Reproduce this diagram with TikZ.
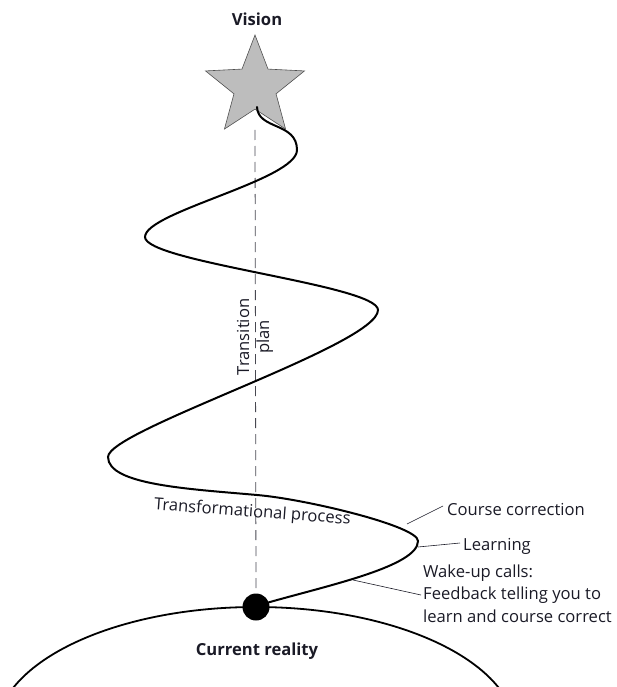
\documentclass[tikz,border=0pt]{standalone}
\usepackage{fontspec}
\setmainfont{Open Sans}
\usetikzlibrary{shapes.geometric}
\definecolor{ink}{HTML}{1A1A26}
\definecolor{stargray}{HTML}{BDBDBD}
\definecolor{stargrayline}{HTML}{505050}
\begin{document}
\begin{tikzpicture}[x=1pt,y=-1pt,
  txt/.style={font=\fontsize{16.6}{22.5}\selectfont, text=ink, inner sep=0pt},
  ttl/.style={font=\bfseries\fontsize{16.6}{20}\selectfont, text=ink, inner sep=0pt},
  leader/.style={draw=ink, line width=0.6pt},
  spiral/.style={draw=black, line width=2pt, line cap=round},
  planline/.style={draw=ink!80, line width=0.8pt, dash pattern=on 10pt off 6pt},
]
\useasboundingbox (0,0) rectangle (617,687);

% current reality: the ground ellipse and the starting dot
\draw[line width=1.8pt] (256,733) ellipse [x radius=260pt, y radius=126pt];
\node[circle, fill=black, minimum size=27pt, inner sep=0pt] (reality) at (256,607) {};

% dashed transition plan from star to dot
\coordinate (plantop) at (255,130);
\draw[planline] (plantop) -- (reality.north);

% way points of the transformational spiral
\coordinate (p1) at (418,541);
\coordinate (m)  at (257,495);
\coordinate (p2) at (108,457);
\coordinate (p3) at (378,310);
\coordinate (p4) at (145,237);
\coordinate (p5) at (297,150);
\coordinate (tip) at (257,107);

\draw[spiral] (reality.20)
  .. controls (330,585) and (418,566) .. (p1)
  .. controls (418,526) and (305,499) .. (m)
  .. controls (190,489) and (108,485) .. (p2)
  .. controls (108,430) and (378,345) .. (p3)
  .. controls (378,285) and (145,262) .. (p4)
  .. controls (145,212) and (297,180) .. (p5);

% vision star, with the last turn of the spiral entering it
\node[star, star points=5, star point ratio=2.35, minimum size=104pt, inner sep=0pt,
      fill=stargray, draw=stargrayline, line width=0.6pt] (star) at (255,87) {};
\draw[spiral] (p5) .. controls (297,122) and (258,130) .. (tip);

% titles
\node[ttl, anchor=base] (vision) at (257,26) {Vision};
\node[ttl, anchor=base] (current) at (257,655) {Current reality};

% labels along the path
\node[txt, rotate=90, align=center, font=\fontsize{16.6}{20}\selectfont] (plan) at (255,337) {Transition\\plan};
\node[txt, rotate=-4.3, anchor=base] (process) at (252,517) {Transformational process};

\node[txt, anchor=base west] (course) at (447,515) {Course correction};
\node[txt, anchor=base west] (learn) at (463,550) {Learning};
\node[txt, anchor=base west, align=left] (wake) at (423,622) {Wake-up calls:\\Feedback telling you to\\learn and course correct};

\coordinate (ccfoot) at (407,524);
\coordinate (lnfoot) at (418,547);
\coordinate (wkfoot) at (353,580);
\coordinate (ccend) at (443,506);
\coordinate (lnend) at (460,543);
\coordinate (wkend) at (421,595);
\draw[leader] (ccfoot) -- (ccend);
\draw[leader] (lnfoot) -- (lnend);
\draw[leader] (wkfoot) -- (wkend);
\end{tikzpicture}
\end{document}
